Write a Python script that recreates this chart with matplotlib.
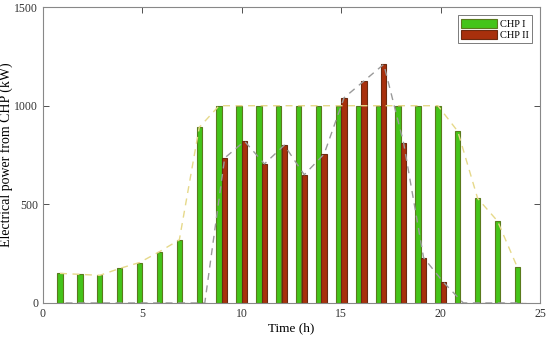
import numpy as np
import matplotlib

matplotlib.use("Agg")
import matplotlib.pyplot as plt

hours = np.arange(1, 25)
chp1 = [150, 145, 140, 175, 205, 260, 320, 890, 1000, 1000, 1000, 1000,
        1000, 1000, 1000, 1000, 1000, 1000, 1000, 1000, 870, 530, 415, 180]
chp2 = [0, 0, 0, 0, 0, 0, 0, 0, 735, 820, 705, 800,
        650, 755, 1040, 1125, 1210, 810, 230, 105, 0, 0, 0, 0]

plt.rcParams["font.family"] = ["Liberation Serif", "DejaVu Serif"]

fig = plt.figure(figsize=(5.5, 3.37), dpi=100)
ax = fig.add_axes([0.078, 0.101, 0.904, 0.878])

w = 0.27
off = 0.14
ax.bar(hours - off, chp1, width=w, color="#44c41a", edgecolor="#5a7a1c",
       linewidth=0.8, label="CHP I", zorder=2)
ax.bar(hours + off, chp2, width=w, color="#a8300c", edgecolor="#6a2a10",
       linewidth=0.8, label="CHP II", zorder=2)

# trend lines through the bar tops
ax.plot(hours - off, chp1, linestyle=(0, (5, 4)), color="#e6d98a",
        linewidth=1.0, zorder=3)
ax.plot(hours + off, chp2, linestyle=(0, (5, 4)), color="#9a9a9a",
        linewidth=1.0, zorder=3)

ax.set_xlim(0, 25)
ax.set_ylim(0, 1500)
ax.set_xticks([0, 5, 10, 15, 20, 25])
ax.set_yticks([0, 500, 1000, 1500])
ax.tick_params(direction="in", top=True, right=True, labelsize=8.5,
               colors="#333333", length=4, width=0.6)
for s in ax.spines.values():
    s.set_color("#888888")
    s.set_linewidth(0.8)
    s.set_zorder(4)

ax.set_xlabel("Time (h)", fontsize=9.5, labelpad=2)
ax.set_ylabel("Electrical power from CHP (kW)", fontsize=10, labelpad=1)

leg = ax.legend(loc="upper right", fontsize=7.5, fancybox=False,
                framealpha=1, edgecolor="#666666", handlelength=3.4,
                handleheight=1.0, borderaxespad=0.8, borderpad=0.3,
                labelspacing=0.1, handletextpad=0.3)
leg.get_frame().set_linewidth(0.6)

fig.savefig("out.png", dpi=100)
